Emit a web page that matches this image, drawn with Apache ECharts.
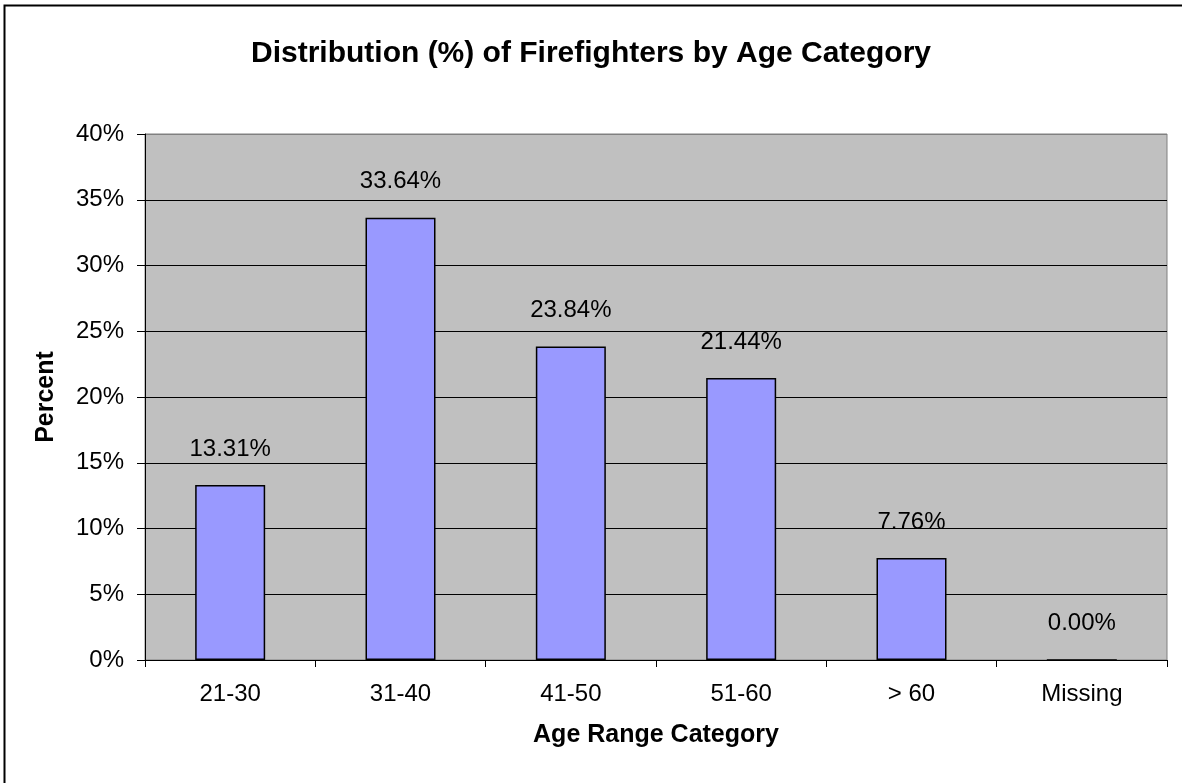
<!DOCTYPE html>
<html>
<head>
<meta charset="utf-8">
<script src="https://cdn.jsdelivr.net/npm/echarts@6/dist/echarts.min.js"></script>
<style>
  html, body { margin: 0; padding: 0; background: #fff; }
  #chart { width: 1182px; height: 783px; }
</style>
</head>
<body>
<div id="chart"></div>
<script>
// Age bands and their share of firefighters (percent)
const categories = ['21-30', '31-40', '41-50', '51-60', '> 60', 'Missing'];
const percents = [13.31, 33.64, 23.84, 21.44, 7.76, 0.00];
const yTicks = [0, 5, 10, 15, 20, 25, 30, 35, 40];

const font = 'Liberation Sans, Arial, sans-serif';
const chart = echarts.init(document.getElementById('chart'), null, { renderer: 'canvas' });

// gridlines are black except the top one, which matches the grey plot frame
const gridColors = yTicks.map((t, i) => (i === yTicks.length - 1 ? '#808080' : '#000'));

chart.setOption({
  animation: false,
  backgroundColor: '#ffffff',
  title: {
    text: 'Distribution (%) of Firefighters by Age Category',
    left: 'center',
    top: 34,
    textStyle: { fontFamily: font, fontSize: 30, fontWeight: 'bold', color: '#000' }
  },
  graphic: [{
    type: 'rect',
    shape: { x: 4.5, y: 5.5, width: 1190, height: 800 },
    style: { fill: 'none', stroke: '#000', lineWidth: 2 },
    silent: true
  }],
  grid: {
    left: 145, right: 15, top: 134, bottom: 123,
    show: true,
    backgroundColor: '#C0C0C0',
    borderColor: '#808080',
    borderWidth: 1
  },
  xAxis: {
    type: 'category',
    data: categories,
    name: 'Age Range Category',
    nameLocation: 'middle',
    nameGap: 63,
    nameTextStyle: { fontFamily: font, fontSize: 25, fontWeight: 'bold', color: '#000' },
    axisLine: { lineStyle: { color: '#000', width: 1 } },
    axisTick: { show: true, alignWithLabel: false, length: 7, lineStyle: { color: '#000' } },
    axisLabel: { fontFamily: font, fontSize: 24, color: '#000', margin: 22 }
  },
  yAxis: {
    type: 'value',
    min: yTicks[0],
    max: yTicks[yTicks.length - 1],
    interval: 5,
    name: 'Percent',
    nameLocation: 'middle',
    nameGap: 86,
    nameRotate: 90,
    nameTextStyle: { fontFamily: font, fontSize: 25, fontWeight: 'bold', color: '#000' },
    axisLine: { show: true, lineStyle: { color: '#000', width: 1 } },
    axisTick: { show: true, length: 8, lineStyle: { color: '#000' } },
    axisLabel: { fontFamily: font, fontSize: 24, color: '#000', margin: 21, formatter: v => v + '%' },
    splitLine: { show: true, lineStyle: { color: gridColors, width: 1 } }
  },
  series: [{
    type: 'bar',
    data: percents,
    barWidth: 70,
    itemStyle: { color: '#9999FF', borderColor: '#000', borderWidth: 1.5 },
    label: {
      show: true,
      position: 'top',
      distance: 24,
      fontFamily: font,
      fontSize: 24,
      color: '#000',
      formatter: p => p.value.toFixed(2) + '%'
    }
  }]
});
</script>
</body>
</html>
